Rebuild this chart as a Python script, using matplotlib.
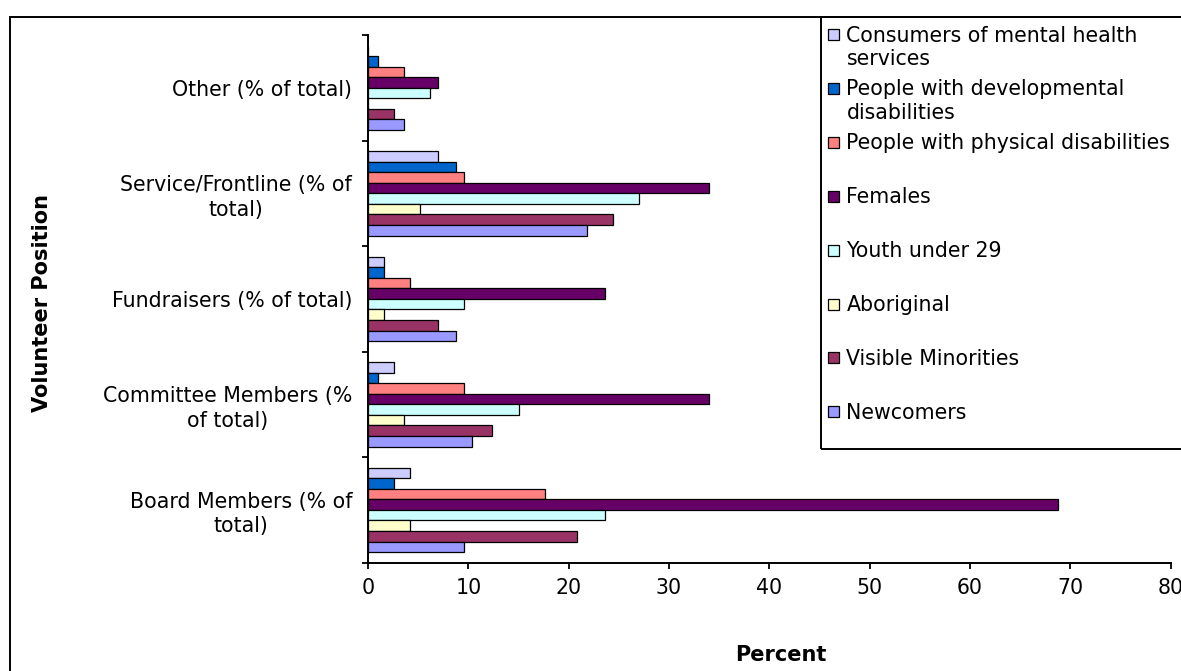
import matplotlib
matplotlib.use("Agg")
import matplotlib.pyplot as plt
from matplotlib.patches import Rectangle
import numpy as np

# Volunteer positions, bottom to top on the chart
positions = [
    "Board Members (% of\ntotal)",
    "Committee Members (%\nof total)",
    "Fundraisers (% of total)",
    "Service/Frontline (% of\ntotal)",
    "Other (% of total)",
]

series_names = [
    "Consumers of mental health\nservices",
    "People with developmental\ndisabilities",
    "People with physical disabilities",
    "Females",
    "Youth under 29",
    "Aboriginal",
    "Visible Minorities",
    "Newcomers",
]

# Percent of volunteers in each position (Board, Committee, Fundraisers, Service, Other)
consumers = [4.2, 2.6, 1.6, 7.0, 0.0]
developmental = [2.6, 1.0, 1.6, 8.8, 1.0]
physical = [17.6, 9.6, 4.2, 9.6, 3.6]
females = [68.8, 34.0, 23.6, 34.0, 7.0]
youth = [23.6, 15.0, 9.6, 27.0, 6.2]
aboriginal = [4.2, 3.6, 1.6, 5.2, 0.0]
visible_minorities = [20.8, 12.4, 7.0, 24.4, 2.6]
newcomers = [9.6, 10.4, 8.8, 21.8, 3.6]

x_ticks = [0, 10, 20, 30, 40, 50, 60, 70, 80]

series_values = [consumers, developmental, physical, females, youth,
                 aboriginal, visible_minorities, newcomers]
colors = ["#CCCCFF", "#0066CC", "#FF8080", "#660066",
          "#CCFFFF", "#FFFFCC", "#993366", "#9999FF"]

plt.rcParams["font.family"] = ["DejaVu Sans"]
FS = 14.8

W, H = 1181, 671
fig = plt.figure(figsize=(W / 100, H / 100), dpi=100)

def fx(px):
    return px / W

def fy(py):
    return 1 - py / H

# Plot area
x0, x1, ytop, ybot = 368, 1170.7, 35, 562.7
ax = fig.add_axes([fx(x0), fy(ybot), fx(x1 - x0), (ybot - ytop) / H])

y = np.arange(len(positions))
bar_h = 0.1
for i, (vals, col) in enumerate(zip(series_values, colors)):
    offset = 0.35 - bar_h * i
    ax.barh(y + offset, vals, height=bar_h, color=col,
            edgecolor="black", linewidth=0.9, zorder=3)

ax.set_xlim(0, 80)
ax.set_ylim(-0.5, len(positions) - 0.5)
ax.set_xticks(x_ticks)
ax.set_xticklabels([str(t) for t in x_ticks], fontsize=FS)
ax.set_yticks(np.arange(-0.5, len(positions), 1.0))
ax.set_yticklabels([])
ax.set_yticks(y, minor=True)
ax.set_yticklabels(positions, minor=True, fontsize=FS, ha="right",
                   multialignment="center", linespacing=1.28)
ax.tick_params(axis="y", which="minor", length=0, pad=11.5)
ax.tick_params(axis="y", which="major", direction="out", length=4, width=1.3)
ax.tick_params(axis="x", direction="out", length=4, width=1.3, pad=7)
for side in ("top", "right"):
    ax.spines[side].set_visible(False)
for side in ("left", "bottom"):
    ax.spines[side].set_linewidth(1.4)

fig.text(fx(781), fy(655), "Percent", fontsize=15, fontweight="bold",
         ha="center", va="center")
fig.text(fx(42), fy(303), "Volunteer Position", fontsize=15,
         fontweight="bold", rotation=90, ha="center", va="center")

# Outer chart frame
fig.add_artist(Rectangle((fx(10), fy(700)), fx(1300), (700 - 17) / H,
                         transform=fig.transFigure, fill=False,
                         edgecolor="black", linewidth=1.4))

# Legend
fig.add_artist(Rectangle((fx(820.7), fy(449)), fx(500), (449 - 17) / H,
                         transform=fig.transFigure, fill=False,
                         edgecolor="black", linewidth=1.4))
slot = 53.9
for i, (name, col) in enumerate(zip(series_names, colors)):
    cy = 34.5 + slot * i
    fig.add_artist(Rectangle((fx(828), fy(cy + 5.5)), fx(11), 11 / H,
                             transform=fig.transFigure, facecolor=col,
                             edgecolor="black", linewidth=0.9))
    fig.text(fx(846.5), fy(cy - 9), name, fontsize=FS, ha="left",
             va="top", linespacing=1.22)

fig.savefig("out.png", dpi=100)
